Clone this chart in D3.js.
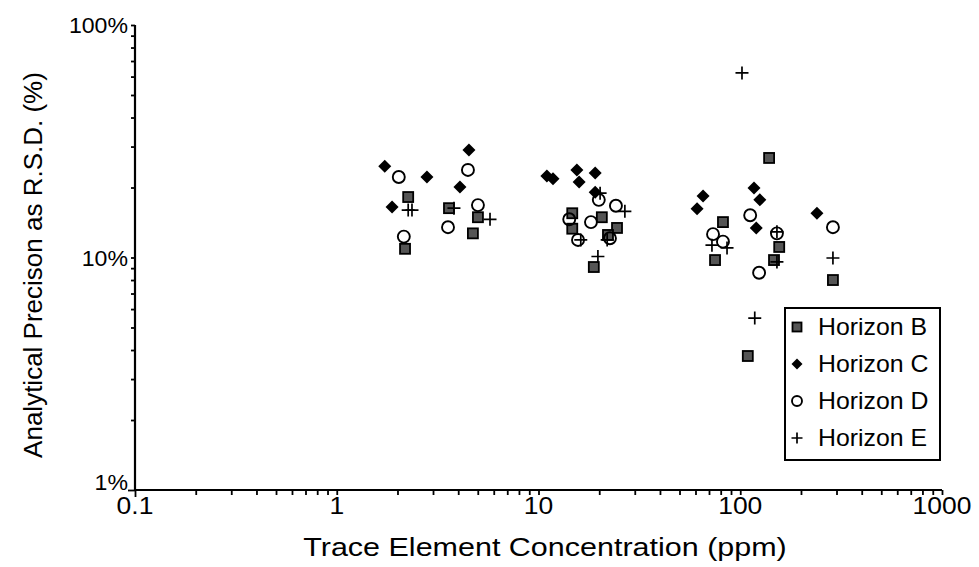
<!DOCTYPE html>
<html>
<head>
<meta charset="utf-8">
<script src="https://cdn.jsdelivr.net/npm/d3@7"></script>
<style>
  html, body { margin: 0; padding: 0; background: #fff; }
  svg { display: block; font-family: "Liberation Sans", Arial, sans-serif; }
</style>
</head>
<body>
<svg id="chart" width="979" height="567"></svg>
<script>
// Concentration (ppm) and relative standard deviation (%) per soil horizon
const horizonB = [
  [2.26, 18.2], [2.18, 10.9], [3.60, 16.3], [5.01, 14.9], [4.73, 12.7],
  [14.7, 15.5], [14.7, 13.3], [20.6, 14.9], [24.5, 13.4], [22.1, 12.5], [18.8, 9.1],
  [139, 26.8], [82.1, 14.2], [75.0, 9.75], [156, 11.1], [147, 9.75], [288, 8.0], [109, 3.77]
];
const horizonC = [
  [1.73, 24.7], [1.88, 16.5], [2.80, 22.2], [4.08, 20.1], [4.52, 29.0],
  [11.0, 22.4], [11.8, 21.8], [15.5, 23.8], [15.9, 21.1], [19.1, 23.1], [19.1, 19.1],
  [61.1, 16.2], [65.4, 18.4], [117, 19.9], [125, 17.7], [120, 13.4], [240, 15.5]
];
const horizonD = [
  [2.03, 22.2], [2.15, 12.3], [3.56, 13.5], [4.47, 23.8], [5.01, 16.8],
  [14.2, 14.6], [18.2, 14.2], [19.9, 17.7], [24.2, 16.7], [15.7, 11.9], [22.6, 12.1],
  [73.3, 12.6], [82.1, 11.7], [112, 15.2], [152, 12.7], [124, 8.6], [288, 13.5]
];
const horizonE = [
  [2.26, 16.0], [2.36, 16.0], [3.81, 16.3], [5.75, 14.6],
  [20.2, 18.9], [26.8, 15.8], [16.2, 11.9], [21.9, 11.9], [19.7, 10.1],
  [102, 62.2], [72.4, 11.3], [86.0, 11.0], [152, 12.9], [152, 9.57], [288, 9.95], [118, 5.49]
];
const seriesNames = ["Horizon B", "Horizon C", "Horizon D", "Horizon E"];
const xTickLabels = ["0.1", "1", "10", "100", "1000"];
const yTickLabels = ["1%", "10%", "100%"];

const svg = d3.select("#chart");
const x = d3.scaleLog().domain([0.1, 1000]).range([135, 942]);
const y = d3.scaleLog().domain([1, 100]).range([490, 25]);

// 1..9 tick positions for every decade
function logTicks(lo, hi) {
  const out = [];
  for (let d = lo; d < hi; d *= 10) for (let k = 1; k < 10; k++) out.push(+(d * k).toPrecision(3));
  out.push(hi);
  return out;
}

// wide text: glyphs stretched horizontally about their anchor point
function wideText(g, px, py, str, size, sx, anchor) {
  return g.append("text")
    .attr("transform", `translate(${px},${py}) scale(${sx},1)`)
    .attr("text-anchor", anchor).attr("font-size", size).text(str);
}

// X axis
const xAxis = svg.append("g").attr("transform", `translate(0,${y(1)})`)
  .call(d3.axisBottom(x).tickValues(logTicks(0.1, 1000)).tickSize(5).tickFormat(""));
xAxis.select(".domain").attr("stroke", "#000").attr("stroke-width", 2.2).attr("d", `M${x(0.1)},0H${x(1000)}`);
xAxis.selectAll(".tick line").attr("stroke", "#000").attr("stroke-width", 1.8);
xAxis.selectAll(".tick").filter(d => d === 0.1).select("line").attr("y2", 7);

// Y axis
const yAxis = svg.append("g").attr("transform", `translate(${x(0.1)},0)`)
  .call(d3.axisLeft(y).tickValues(logTicks(1, 100)).tickSize(4).tickFormat(""));
yAxis.select(".domain").attr("stroke", "#000").attr("stroke-width", 2.2).attr("d", `M0,${y(100)}V${y(1)}`);
yAxis.selectAll(".tick line").attr("stroke", "#000").attr("stroke-width", 1.8);
yAxis.selectAll(".tick").filter(d => d === 1).select("line").attr("x2", -7);

// tick labels
const xMajor = [0.1, 1, 10, 100, 1000];
const xLab = svg.append("g");
xMajor.forEach((d, i) => wideText(xLab, x(d), 514, xTickLabels[i], 23, 1.15, "middle"));

const yMajor = [1, 10, 100];
const yLab = svg.append("g");
yMajor.forEach((d, i) => wideText(yLab, 128, y(d) + (d === 1 ? 0 : 8), yTickLabels[i], 22, 1.05, "end"));

// axis titles
wideText(svg, 545, 556, "Trace Element Concentration (ppm)", 25, 1.22, "middle");
svg.append("text").attr("transform", `translate(42,265) rotate(-90)`).attr("text-anchor", "middle")
  .attr("font-size", 26).text("Analytical Precison as R.S.D. (%)");

// marker painters
const markers = {
  square: (g, s) => g.append("rect").attr("x", -s / 2).attr("y", -s / 2).attr("width", s).attr("height", s)
    .attr("fill", "#555").attr("stroke", "#000").attr("stroke-width", 1.8),
  diamond: (g, s) => g.append("path").attr("d", `M0,${-s / 2}L${s / 2},0L0,${s / 2}L${-s / 2},0Z`).attr("fill", "#000"),
  circle: (g, s) => g.append("circle").attr("r", s / 2).attr("fill", "none").attr("stroke", "#000").attr("stroke-width", 1.9),
  plus: (g, s) => g.append("path").attr("d", `M${-s / 2},0H${s / 2}M0,${-s / 2}V${s / 2}`).attr("stroke", "#000").attr("stroke-width", 1.7)
};
const series = [
  { data: horizonB, shape: "square", size: 10 },
  { data: horizonC, shape: "diamond", size: 13 },
  { data: horizonD, shape: "circle", size: 12 },
  { data: horizonE, shape: "plus", size: 13 }
];

const plot = svg.append("g");
series.forEach(s => {
  plot.append("g").selectAll("g").data(s.data).join("g")
    .attr("transform", d => `translate(${x(d[0])},${y(d[1])})`)
    .each(function () { markers[s.shape](d3.select(this), s.size); });
});

// legend
const legend = svg.append("g");
legend.append("rect").attr("x", 785).attr("y", 308).attr("width", 155).attr("height", 152)
  .attr("fill", "#fff").attr("stroke", "#000").attr("stroke-width", 2);
const legendSizes = [9, 11, 10, 11];
series.forEach((s, i) => {
  const row = legend.append("g").attr("transform", `translate(797,${327 + i * 37})`);
  markers[s.shape](row, legendSizes[i]);
  wideText(row, 21, 8, seriesNames[i], 23, 1.08, "start");
});
</script>
</body>
</html>
